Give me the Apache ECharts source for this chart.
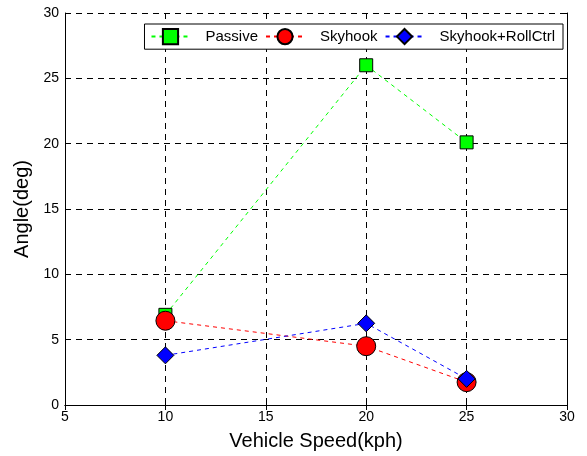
<!DOCTYPE html>
<html><head><meta charset="utf-8">
<script src="https://cdn.jsdelivr.net/npm/echarts@6/dist/echarts.min.js"></script>
<style>html,body{margin:0;padding:0;background:#fff}#c{width:587px;height:456px}</style>
</head><body><div id="c"></div>
<script>
const speeds = [10, 20, 25];
const passive = [6.9, 26.0, 20.1];
const skyhook = [6.45, 4.5, 1.75];
const rollCtrl = [3.8, 6.25, 2.0];
const xTicks = [5, 10, 15, 20, 25, 30];
const yTicks = [0, 5, 10, 15, 20, 25, 30];

const font = 'Liberation Sans, Arial, sans-serif';
const chart = echarts.init(document.getElementById('c'));
function pts(v){ return speeds.map((s,i)=>[s, v[i]]); }
const dash = [6, 5];
chart.setOption({
  animation: false,
  backgroundColor: '#fff',
  grid: {left: 65, right: 20, top: 13, bottom: 51},
  legend: {
    right: 24, top: 24, orient: 'horizontal',
    backgroundColor: '#fff', borderColor: '#000', borderWidth: 1, borderRadius: 0,
    padding: [4, 8, 4, 6], itemGap: 7, itemWidth: 38, itemHeight: 19,
    textStyle: {fontFamily: font, fontSize: 15, color: '#000', padding: [0, 0, 0, 11]},
    data: ['Passive', 'Skyhook', 'Skyhook+RollCtrl']
  },
  xAxis: [{
    type: 'value', min: xTicks[0], max: xTicks[xTicks.length-1], interval: 5,
    name: 'Vehicle Speed(kph)', nameLocation: 'middle', nameGap: 26,
    nameTextStyle: {fontFamily: font, fontSize: 20, color: '#000'},
    axisLine: {lineStyle: {color: '#000', width: 1}},
    axisTick: {inside: true, length: 5, lineStyle: {color: '#000'}},
    axisLabel: {fontFamily: font, fontSize: 14, color: '#000', margin: 5},
    splitLine: {show: true, lineStyle: {color: '#000', type: dash, width: 1}}
  }, {
    type: 'value', position: 'top', min: 5, max: 30, interval: 5,
    axisLine: {show: true, lineStyle: {color: '#000', width: 1}},
    axisTick: {inside: true, length: 5, lineStyle: {color: '#000'}},
    axisLabel: {show: false}, splitLine: {show: false}
  }],
  yAxis: [{
    type: 'value', min: yTicks[0], max: yTicks[yTicks.length-1], interval: 5,
    name: 'Angle(deg)', nameLocation: 'middle', nameGap: 27,
    nameTextStyle: {fontFamily: font, fontSize: 20, color: '#000'},
    axisLine: {show: true, lineStyle: {color: '#000', width: 1}},
    axisTick: {show: true, inside: true, length: 5, lineStyle: {color: '#000'}},
    axisLabel: {fontFamily: font, fontSize: 14, color: '#000', margin: 6},
    splitLine: {show: true, lineStyle: {color: '#000', type: dash, width: 1}}
  }, {
    type: 'value', position: 'right', min: 0, max: 30, interval: 5,
    axisLine: {show: true, lineStyle: {color: '#000', width: 1}},
    axisTick: {show: true, inside: true, length: 5, lineStyle: {color: '#000'}},
    axisLabel: {show: false}, splitLine: {show: false}
  }],
  series: [{
    name: 'Passive', type: 'line', data: pts(passive),
    symbol: 'rect', symbolSize: 13,
    lineStyle: {color: '#00ff00', width: 1, type: [4, 4]},
    itemStyle: {color: '#00ff00', borderColor: '#000', borderWidth: 1}
  }, {
    name: 'Skyhook', type: 'line', data: pts(skyhook),
    symbol: 'circle', symbolSize: 19,
    lineStyle: {color: '#ff0000', width: 1, type: [4, 4]},
    itemStyle: {color: '#ff0000', borderColor: '#000', borderWidth: 1}
  }, {
    name: 'Skyhook+RollCtrl', type: 'line', data: pts(rollCtrl),
    symbol: 'diamond', symbolSize: 17,
    lineStyle: {color: '#0000ff', width: 1, type: [4, 4]},
    itemStyle: {color: '#0000ff', borderColor: '#000', borderWidth: 1}
  }]
});
</script></body></html>
